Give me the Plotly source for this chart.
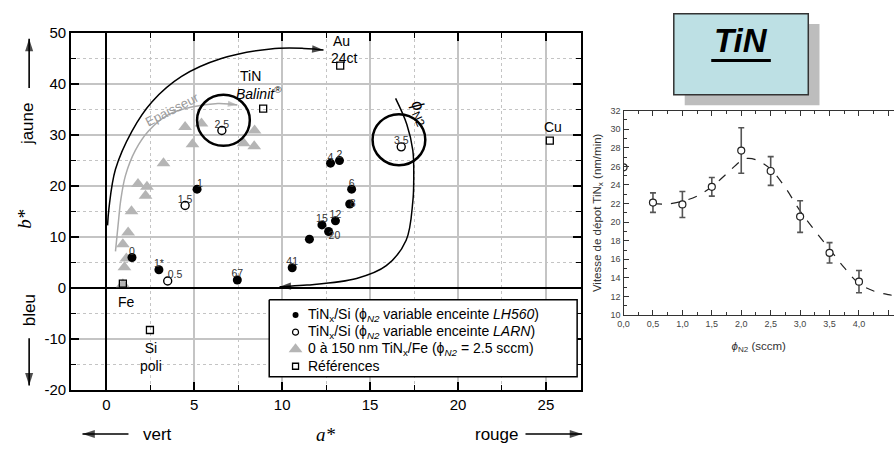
import plotly.graph_objects as go

W, H = 894, 455
def px(x): return x / W
def py(y): return 1 - y / H

SANS = "Liberation Sans, Arial, sans-serif"
SERIF = "Liberation Serif, Times New Roman, serif"

# ---------------- left chart data (a*, b*) ----------------
lh_x = [1.46, 2.99, 7.45, 5.16, 10.57, 11.55, 12.26, 12.64, 13.03, 13.84, 13.95, 12.75, 13.26]
lh_y = [6.0, 3.6, 1.6, 19.4, 4.0, 9.6, 12.4, 11.1, 13.2, 16.5, 19.4, 24.5, 25.0]
lh_lab = ["0", "1*", "67", "1", "41", "", "15", "20", "12", "8", "6", "4", "2"]
lh_pos = ["top center", "top center", "top center", "top right", "top center", "top center",
          "top center", "bottom right", "top center", "middle right", "top center", "top center", "top center"]

larn_x = [3.49, 4.48, 6.57, 16.77]
larn_y = [1.4, 16.2, 30.9, 27.7]
larn_lab = ["0.5", "1.5", "2.5", "3.5"]
larn_pos = ["top right", "top center", "top center", "top center"]

fe_x = [4.48, 5.41, 4.90, 8.43, 7.81, 8.41, 3.25, 1.80, 2.31, 2.23, 1.43, 1.24, 0.94, 1.14, 1.03, 0.94]
fe_y = [31.6, 32.3, 28.2, 30.9, 28.4, 27.8, 24.5, 20.4, 19.9, 18.1, 15.1, 10.9, 8.6, 5.8, 4.1, 0.75]

ref_x = [0.94, 2.48, 8.92, 13.3, 25.22]
ref_y = [0.9, -8.2, 35.2, 43.6, 28.9]

y_ticks = [-20, -10, 0, 10, 20, 30, 40, 50]
y_ticktext = ["-20", "-10", "0", "10", "20", "30", "40", "50"]

leg_names = [
    "TiN<sub>x</sub>/Si (ϕ<sub><i>N2</i></sub> variable enceinte <i>LH560</i>)",
    "TiN<sub>x</sub>/Si (ϕ<sub><i>N2</i></sub> variable enceinte <i>LARN</i>)",
    "0 à 150 nm TiN<sub>x</sub>/Fe (ϕ<sub><i>N2</i></sub> = 2.5 sccm)",
    "Références",
]

# decorative guide curves (data coordinates); last point carries the arrowhead
arc1_x = [0.07, 0.15, 0.52, 1.46, 2.59, 4.28, 6.54, 9.35, 11.23, 12.0, 12.35]
arc1_y = [12.3, 15.7, 23.3, 30.8, 36.5, 41.5, 45.0, 46.9, 47.0, 46.8, 46.7]
arc2_x = [16.45, 17.09, 17.43, 17.48, 17.43, 17.05, 15.92, 14.23, 11.41, 10.2, 9.85]
arc2_y = [37.2, 32.1, 27.0, 20.8, 17.0, 9.4, 4.4, 1.9, 0.6, 0.35, 0.3]
arcg_x = [0.52, 0.71, 0.81, 1.09, 1.65, 2.4, 3.53, 4.85, 6.34, 7.1, 7.45]
arcg_y = [7.2, 13.8, 17.0, 22.1, 27.0, 30.8, 34.0, 35.5, 36.2, 36.05, 35.9]

# ---------------- right chart data ----------------
dep_x = [0.5, 1.0, 1.5, 2.0, 2.5, 3.0, 3.5, 4.0]
dep_y = [22.1, 21.9, 23.8, 27.7, 25.5, 20.6, 16.7, 13.6]
dep_err = [1.05, 1.4, 1.0, 2.45, 1.55, 1.7, 1.1, 1.2]
dep0_x = [0.0]
dep0_y = [25.9]
fit_x = [0.5, 0.75, 1.0, 1.25, 1.5, 1.75, 2.0, 2.1, 2.25, 2.5, 2.75, 3.0, 3.25, 3.5, 3.75, 4.0, 4.25, 4.5, 4.6]
fit_y = [22.0, 21.95, 22.25, 22.8, 23.8, 25.2, 26.6, 26.85, 26.7, 25.7, 23.7, 21.2, 19.1, 17.1, 15.1, 13.4, 12.6, 12.2, 12.1]
xt_vals = [0, 0.5, 1.0, 1.5, 2.0, 2.5, 3.0, 3.5, 4.0, 4.5]
xt_text = ["0,0", "0,5", "1,0", "1,5", "2,0", "2,5", "3,0", "3,5", "4,0", "4,5"]

fig = go.Figure()

def arrow_line(xs, ys, color, width, head, xaxis="x", yaxis="y"):
    n = len(xs)
    fig.add_trace(go.Scatter(x=xs, y=ys, xaxis=xaxis, yaxis=yaxis, mode="lines+markers",
                             line=dict(color=color, width=width, shape="spline"),
                             marker=dict(symbol=["circle"] * (n - 1) + ["arrow"], size=[0] * (n - 1) + [head],
                                         color=color, angleref="previous", line=dict(width=0)),
                             showlegend=False, hoverinfo="skip", cliponaxis=False))

# guide curves
arrow_line(arcg_x, arcg_y, "#aaaaaa", 1.5, 10)
arrow_line(arc1_x, arc1_y, "black", 1.5, 12)
arrow_line(arc2_x, arc2_y, "black", 1.5, 12)

# data markers
M_FE = dict(symbol="triangle-up", size=12, color="#b5b5b5")
M_REF = dict(symbol="square-open", size=7, color="black", line=dict(width=1.3))
M_LH = dict(symbol="circle", size=9, color="black")
M_LARN = dict(symbol="circle", size=8, color="white", line=dict(color="black", width=1.4))
fig.add_trace(go.Scatter(x=fe_x, y=fe_y, mode="markers", marker=M_FE, showlegend=False, name="Fe"))
fig.add_trace(go.Scatter(x=ref_x, y=ref_y, mode="markers", marker=M_REF, showlegend=False, name="ref"))
fig.add_trace(go.Scatter(x=lh_x, y=lh_y, mode="markers", marker=M_LH, showlegend=False, name="LH560"))
fig.add_trace(go.Scatter(x=larn_x, y=larn_y, mode="markers", marker=M_LARN, showlegend=False, name="LARN"))
keep = [i for i, t in enumerate(lh_lab) if t]
fig.add_trace(go.Scatter(x=[lh_x[i] for i in keep], y=[lh_y[i] for i in keep], mode="text",
                         text=[lh_lab[i] for i in keep], textposition=[lh_pos[i] for i in keep],
                         textfont=dict(size=10.5, color="#333", family=SANS), showlegend=False, hoverinfo="skip"))
fig.add_trace(go.Scatter(x=larn_x, y=larn_y, mode="text", text=larn_lab, textposition=larn_pos,
                         textfont=dict(size=10.5, color="#333", family=SANS), showlegend=False, hoverinfo="skip"))

# right chart
fig.add_trace(go.Scatter(x=fit_x, y=fit_y, xaxis="x2", yaxis="y2", mode="lines",
                         line=dict(color="#222", width=1.2, dash="dash", shape="spline"),
                         showlegend=False, hoverinfo="skip"))
fig.add_trace(go.Scatter(x=dep_x, y=dep_y, xaxis="x2", yaxis="y2", mode="markers",
                         marker=dict(symbol="circle", size=7, color="white", line=dict(color="#222", width=1.2)),
                         error_y=dict(type="data", array=dep_err, color="#555", thickness=1.6, width=3),
                         showlegend=False))
fig.add_trace(go.Scatter(x=dep0_x, y=dep0_y, xaxis="x2", yaxis="y2", mode="markers",
                         marker=dict(symbol="circle", size=7, color="white", line=dict(color="#222", width=1.2)),
                         showlegend=False))

# ---- page overlay (pixel coordinates): direction arrows and legend box ----
arrow_line([23.3, 23.3], [82, 31], "black", 1.6, 13, "x3", "y3")     # jaune
arrow_line([23.3, 23.3], [342, 391], "black", 1.6, 13, "x3", "y3")   # bleu
arrow_line([123.3, 77], [441.5, 441.5], "black", 1.6, 13, "x3", "y3")  # vert
arrow_line([523, 580], [441.5, 441.5], "black", 1.6, 13, "x3", "y3")   # rouge

LEG_L, LEG_R, LEG_T, LEG_B = 265, 575, 302, 382
leg_rows = [318, 335.7, 353.4, 371.1]
fig.add_trace(go.Scatter(x=[LEG_L, LEG_R, LEG_R, LEG_L, LEG_L], y=[LEG_T, LEG_T, LEG_B, LEG_B, LEG_T],
                         xaxis="x3", yaxis="y3", mode="lines", fill="toself", fillcolor="white",
                         line=dict(color="black", width=1.5), showlegend=False, hoverinfo="skip"))
leg_markers = [dict(M_LH, size=6), dict(M_LARN, size=6, line=dict(color="black", width=1.2)),
               dict(M_FE, size=12), dict(M_REF, size=6)]
for r, m in zip(leg_rows, leg_markers):
    fig.add_trace(go.Scatter(x=[291.5], y=[r], xaxis="x3", yaxis="y3", mode="markers", marker=m,
                             showlegend=False, hoverinfo="skip"))

GRID = "#c4c4c4"
fig.update_layout(
    width=W, height=H, margin=dict(l=0, r=0, t=0, b=0),
    paper_bgcolor="white", plot_bgcolor="rgba(0,0,0,0)", showlegend=False,
    font=dict(family=SANS, color="black"),
    xaxis=dict(domain=[px(65.6), px(579)], range=[-2, 27], tick0=0, dtick=5,
               showgrid=True, gridcolor=GRID, gridwidth=1.5,
               zeroline=True, zerolinecolor="black", zerolinewidth=2.2,
               showline=True, linecolor="black", linewidth=2, mirror="allticks",
               ticks="inside", ticklen=8, tickwidth=1.5, tickcolor="black",
               tickfont=dict(size=15, family=SANS),
               minor=dict(dtick=2.5, tick0=0, showgrid=True, gridcolor=GRID, griddash="dot", gridwidth=1,
                          ticks="inside", ticklen=5, tickcolor="black", tickwidth=1.2)),
    yaxis=dict(domain=[py(396), py(25)], range=[-20, 50], tickmode="array", tickvals=y_ticks, ticktext=y_ticktext,
               showgrid=True, gridcolor=GRID, gridwidth=1.5,
               zeroline=True, zerolinecolor="black", zerolinewidth=2.2,
               showline=True, linecolor="black", linewidth=2, mirror="allticks",
               ticks="inside", ticklen=8, tickwidth=1.5, tickcolor="black",
               tickfont=dict(size=15, family=SANS),
               minor=dict(dtick=5, tick0=0, showgrid=True, gridcolor=GRID, griddash="dot", gridwidth=1,
                          ticks="inside", ticklen=5, tickcolor="black", tickwidth=1.2)),
    xaxis2=dict(domain=[px(621.7), 1], range=[0, (W - 621.7) / 59.26], anchor="y2",
                tickvals=xt_vals, ticktext=xt_text, showgrid=False, zeroline=False,
                showline=True, linecolor="#333", linewidth=1.2, mirror="allticks",
                ticks="inside", ticklen=5, tickwidth=1, tickcolor="#333",
                tickfont=dict(size=9, color="#444", family=SANS),
                minor=dict(dtick=0.25, tick0=0, ticks="inside", ticklen=3, tickcolor="#333"),
                title=dict(text="<i>ϕ</i><sub>N2</sub> (sccm)", font=dict(size=11.5, color="#333"), standoff=13)),
    yaxis2=dict(domain=[py(318), py(105.5)], range=[10, 32], anchor="x2", dtick=2,
                showgrid=False, zeroline=False,
                showline=True, linecolor="#333", linewidth=1.2, mirror=False,
                ticks="inside", ticklen=5, tickwidth=1, tickcolor="#333",
                tickfont=dict(size=9, color="#444", family=SANS),
                minor=dict(dtick=1, ticks="inside", ticklen=3, tickcolor="#333"),
                title=dict(text="Vitesse de dépot TiN<sub>x</sub> (nm/min)", font=dict(size=11.5, color="#333"),
                           standoff=6)),
    xaxis3=dict(domain=[0, 1], range=[0, W], anchor="y3", visible=False, fixedrange=True),
    yaxis3=dict(domain=[0, 1], range=[H, 0], anchor="x3", visible=False, fixedrange=True),
)

shapes = [
    dict(type="circle", xref="x", yref="y", x0=6.66 - 1.5, x1=6.66 + 1.5, y0=32.9 - 5.0, y1=32.9 + 5.0,
         line=dict(color="black", width=2.5)),
    dict(type="circle", xref="x", yref="y", x0=16.64 - 1.5, x1=16.64 + 1.5, y0=29.1 - 5.0, y1=29.1 + 5.0,
         line=dict(color="black", width=2.5)),
    dict(type="rect", xref="paper", yref="paper", x0=px(683.3), x1=px(819), y0=py(100), y1=py(15.7),
         fillcolor="#bdbdbd", line=dict(width=0)),
    dict(type="rect", xref="paper", yref="paper", x0=px(672.3), x1=px(807.7), y0=py(89), y1=py(5),
         fillcolor="#bde0e4", line=dict(color="#333", width=1.5)),
    dict(type="line", xref="paper", yref="paper", x0=px(710), x1=px(770), y0=py(53.5), y1=py(53.5),
         line=dict(color="black", width=3)),
]
fig.update_layout(shapes=shapes)

ann = []
def ptxt(text, x, y, size=17, family=SANS, angle=0, color="black", xanchor="center"):
    ann.append(dict(text=text, x=px(x), y=py(y), xref="paper", yref="paper", showarrow=False,
                    textangle=angle, font=dict(size=size, family=family, color=color),
                    xanchor=xanchor, yanchor="middle"))
def dtxt(text, x, y, size=14, angle=0, color="black", family=SANS):
    ann.append(dict(text=text, x=x, y=y, xref="x", yref="y", showarrow=False, textangle=angle,
                    font=dict(size=size, family=family, color=color), xanchor="center", yanchor="middle"))

ptxt("jaune", 21.7, 119, angle=-90)
ptxt("<i>b*</i>", 19, 218, size=19, family=SERIF, angle=-90)
ptxt("bleu", 23, 313, angle=-90)
ptxt("vert", 153, 441.5)
ptxt("<i>a*</i>", 322, 441.5, size=19, family=SERIF)
ptxt("rouge", 494, 441.5)

dtxt("Fe", 1.14, -2.8)
dtxt("Si<br>poli", 2.55, -13.4)
dtxt("TiN", 8.22, 41.5)
dtxt("<i>Balinit</i><sup>®</sup>", 8.7, 38.2)
dtxt("Au", 13.39, 48.4)
dtxt("24ct", 13.52, 45.2)
dtxt("Cu", 25.4, 31.6)
dtxt("Epaisseur", 3.75, 35.0, size=13, angle=-27, color="#9a9a9a")
dtxt("<i>ϕ</i><sub>N2</sub>", 17.8, 34.3, size=17, angle=65)

for r, name in zip(leg_rows, leg_names):
    ptxt(name, 302, r, size=14, xanchor="left")

ptxt("<b><i>TiN</i></b>", 740, 33, size=33)

fig.update_layout(annotations=ann)
fig.write_html("out.html")
